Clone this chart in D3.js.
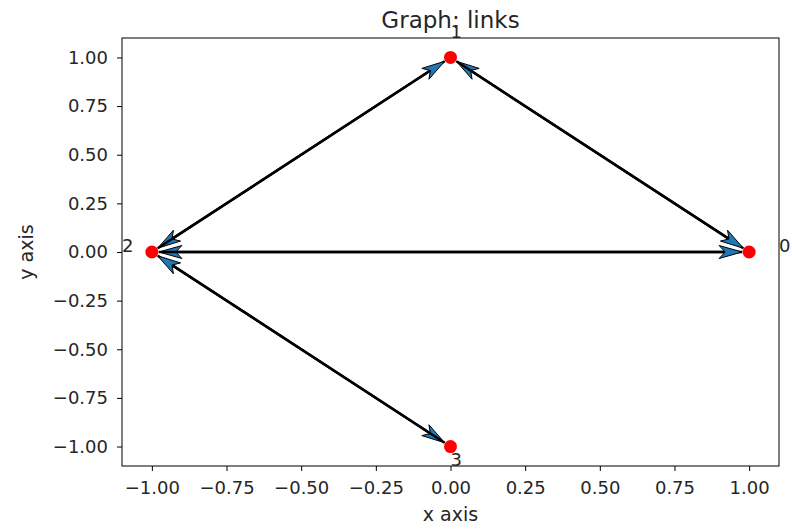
<!DOCTYPE html>
<html>
<head>
<meta charset="utf-8">
<script src="https://cdn.jsdelivr.net/npm/d3@7"></script>
<style>
  body { margin: 0; background: #fff; }
  text { font-family: "DejaVu Sans", sans-serif; fill: #262626; }
</style>
</head>
<body>
<div id="chart"></div>
<script>
// nodes of the graph
const nodeIds = ['0', '1', '2', '3'];
const nodeX = [1, 0, -1, 0];
const nodeY = [0, 1, 0, -1];
// directed links (source -> target)
const linkSource = [0, 1, 0, 2, 1, 2, 2, 3];
const linkTarget = [1, 0, 2, 0, 2, 1, 3, 2];
// axis ticks
const xTicks = [-1, -0.75, -0.5, -0.25, 0, 0.25, 0.5, 0.75, 1];
const yTicks = [-1, -0.75, -0.5, -0.25, 0, 0.25, 0.5, 0.75, 1];

const W = 792, H = 530;
const margin = { top: 38, right: 13, bottom: 64, left: 122 };

const svg = d3.select('#chart').append('svg')
  .attr('width', W)
  .attr('height', H);

const x = d3.scaleLinear().domain([-1.1, 1.1]).range([margin.left, W - margin.right]);
const y = d3.scaleLinear().domain([-1.1, 1.1]).range([H - margin.bottom, margin.top]);
const fmt = d3.format('.2f');

const xAxis = svg.append('g')
  .attr('transform', `translate(0,${H - margin.bottom})`)
  .call(d3.axisBottom(x).tickValues(xTicks).tickFormat(fmt).tickSize(5).tickPadding(10));
const yAxis = svg.append('g')
  .attr('transform', `translate(${margin.left},0)`)
  .call(d3.axisLeft(y).tickValues(yTicks).tickFormat(fmt).tickSize(5).tickPadding(9));

[xAxis, yAxis].forEach(g => {
  g.select('.domain').remove();
  g.selectAll('.tick line').attr('stroke', '#000').attr('stroke-width', 1);
  g.selectAll('.tick text').attr('font-size', 18).attr('fill', '#262626');
});

// frame
svg.append('rect')
  .attr('x', margin.left)
  .attr('y', margin.top)
  .attr('width', W - margin.left - margin.right)
  .attr('height', H - margin.top - margin.bottom)
  .attr('fill', 'none')
  .attr('stroke', '#000')
  .attr('stroke-width', 1);

svg.append('text')
  .attr('x', (margin.left + W - margin.right) / 2)
  .attr('y', 27.5)
  .attr('text-anchor', 'middle')
  .attr('font-size', 23)
  .text('Graph: links');

svg.append('text')
  .attr('x', (margin.left + W - margin.right) / 2)
  .attr('y', 521)
  .attr('text-anchor', 'middle')
  .attr('font-size', 19)
  .text('x axis');

svg.append('text')
  .attr('transform', `translate(33,${(margin.top + H - margin.bottom) / 2}) rotate(-90)`)
  .attr('text-anchor', 'middle')
  .attr('font-size', 19)
  .text('y axis');

// arrows, drawn in pixel space
const shrink = 7, headLen = 23, headHalf = 6.5, overhang = 6;
const links = linkSource.map((s, i) => ({ s, t: linkTarget[i] }));

const arrows = svg.append('g');
links.forEach(({ s, t }) => {
  const x0 = x(nodeX[s]), y0 = y(nodeY[s]);
  const x1 = x(nodeX[t]), y1 = y(nodeY[t]);
  const dx = x1 - x0, dy = y1 - y0;
  const len = Math.hypot(dx, dy);
  const ux = dx / len, uy = dy / len;
  const px = -uy, py = ux;
  const sx = x0 + ux * shrink, sy = y0 + uy * shrink;
  const tx = x1 - ux * shrink, ty = y1 - uy * shrink;
  const bx = tx - ux * headLen, by = ty - uy * headLen;
  const nx = bx + ux * overhang, ny = by + uy * overhang;

  arrows.append('line')
    .attr('x1', sx).attr('y1', sy)
    .attr('x2', nx).attr('y2', ny)
    .attr('stroke', '#000')
    .attr('stroke-width', 2.5);

  const head = [
    [tx, ty],
    [bx + px * headHalf, by + py * headHalf],
    [nx, ny],
    [bx - px * headHalf, by - py * headHalf]
  ];
  arrows.append('path')
    .attr('d', d3.line()(head) + 'Z')
    .attr('fill', '#1f77b4')
    .attr('stroke', '#000')
    .attr('stroke-width', 1);
});

// nodes
svg.append('g').selectAll('circle')
  .data(nodeIds)
  .join('circle')
  .attr('cx', (d, i) => x(nodeX[i]))
  .attr('cy', (d, i) => y(nodeY[i]))
  .attr('r', 6.5)
  .attr('fill', '#ff0000');

// node labels at 1.1 * position
svg.append('g').selectAll('text')
  .data(nodeIds)
  .join('text')
  .attr('x', (d, i) => x(nodeX[i] * 1.1))
  .attr('y', (d, i) => y(nodeY[i] * 1.1))
  .attr('font-size', 18)
  .text(d => d);
</script>
</body>
</html>
